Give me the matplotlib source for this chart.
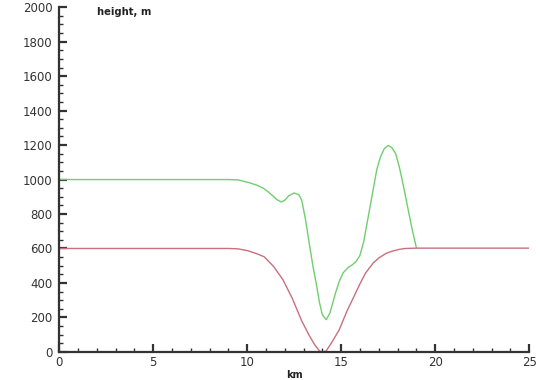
import matplotlib
matplotlib.use("Agg")
import matplotlib.pyplot as plt
from matplotlib.ticker import MultipleLocator

plt.rcParams['font.family'] = ['DejaVu Sans']

# Bed / lower surface (red), km and m
red_x = [0, 9.0, 9.5, 10.0, 10.5, 10.9, 11.4, 11.9, 12.4, 12.9, 13.3, 13.6, 13.85, 14.0, 14.2,
         14.5, 14.9, 15.3, 15.6, 16.0, 16.3, 16.7, 17.0, 17.4, 17.7, 18.1, 18.4, 19.0, 25]
red_y = [600, 600, 598, 588, 570, 552, 496, 419, 310, 180, 95, 40, 5, 0, 5,
         55, 129, 235, 303, 395, 458, 515, 545, 572, 584, 595, 600, 602, 602]

# Upper surface (green)
green_x = [0, 9.0, 9.5, 10.1, 10.5, 10.85, 11.1, 11.4, 11.6, 11.82, 12.0, 12.2, 12.5, 12.75,
           12.9, 13.1, 13.3, 13.5, 13.7, 13.85, 14.0, 14.2, 14.4, 14.7, 14.9, 15.1, 15.35,
           15.6, 15.8, 16.0, 16.2, 16.4, 16.7, 16.9, 17.1, 17.3, 17.5, 17.7, 17.9, 18.1,
           18.3, 18.6, 18.8, 19.0]
green_y = [1000, 1000, 998, 982, 968, 950, 930, 902, 882, 870, 880, 905, 922, 912,
           880, 770, 630, 496, 380, 284, 215, 187, 225, 342, 410, 458, 488,
           506, 525, 560, 640, 760, 940, 1060, 1134, 1180, 1198, 1185, 1150, 1070,
           970, 806, 700, 605]

fig = plt.figure(figsize=(5.4, 3.8), dpi=100)
ax = fig.add_axes([0.1098, 0.074, 0.870, 0.907])

ax.plot(green_x, green_y, color='#6fcf6f', lw=1.0)
ax.plot(red_x, red_y, color='#c8707e', lw=1.0)

ax.set_xlim(0, 25)
ax.set_ylim(0, 2000)
ax.xaxis.set_major_locator(MultipleLocator(5))
ax.xaxis.set_minor_locator(MultipleLocator(1))
ax.yaxis.set_major_locator(MultipleLocator(200))
ax.yaxis.set_minor_locator(MultipleLocator(50))

for s in ['top', 'right']:
    ax.spines[s].set_visible(False)
for s in ['left', 'bottom']:
    ax.spines[s].set_linewidth(1.6)
    ax.spines[s].set_color('#333333')

ax.tick_params(which='major', direction='in', length=6, width=1.6, color='#333333',
               labelsize=8.5, labelcolor='#333333', pad=3)
ax.tick_params(which='minor', direction='in', length=2.8, width=1.0, color='#333333')
ax.tick_params(axis='y', which='major', pad=5)

fig.text(0.18, 0.969, 'height, m', fontsize=7.2, fontweight='bold', ha='left', va='center',
         color='#222222')
fig.text(0.546, 0.014, 'km', fontsize=7, fontweight='bold', ha='center', va='center',
         color='#222222')

fig.savefig('out.png', dpi=100)
